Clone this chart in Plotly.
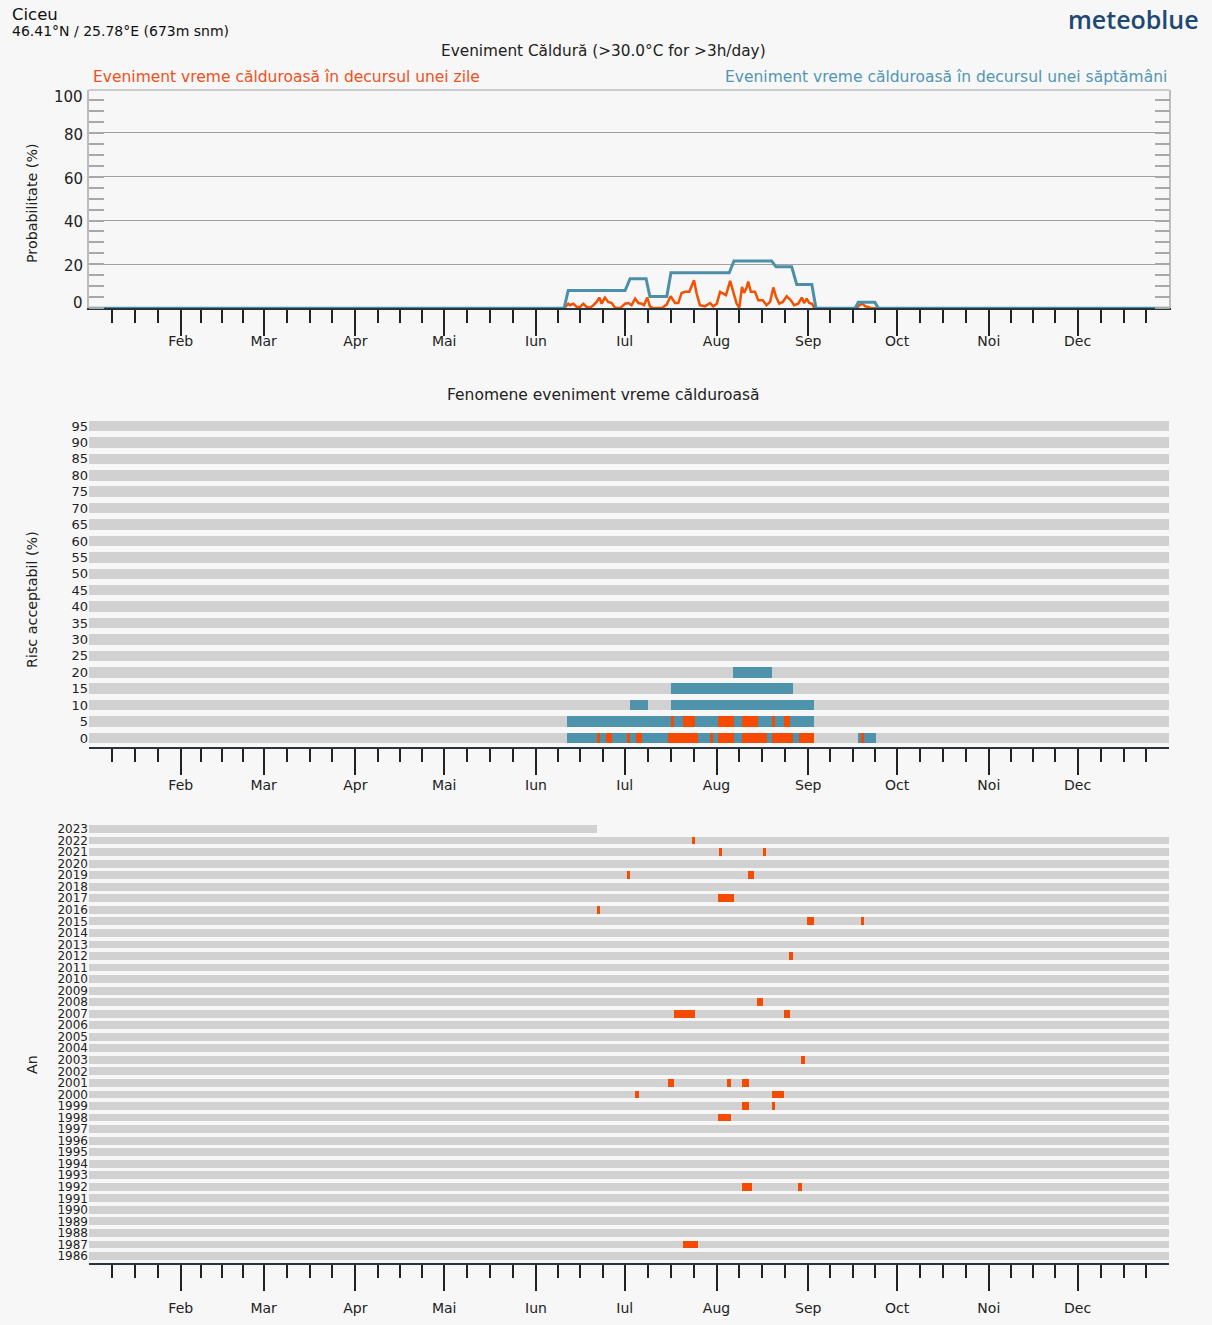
import plotly.graph_objects as go

W, H = 1212, 1325

# ---------------- data ----------------
month_labels = ["Feb", "Mar", "Apr", "Mai", "Iun", "Iul", "Aug", "Sep", "Oct", "Noi", "Dec"]
month_lengths = [31, 28, 31, 30, 31, 30, 31, 31, 30, 31, 30, 31]

# top panel: weekly event probability (%) vertices
weekly_days = [0, 160.5, 161.9, 181.1, 182.8, 188.2, 189.5, 195.2, 196.6, 216.3, 217.9,
               230.6, 232.1, 237.4, 239.1, 244.2, 245.6, 258.8, 259.9, 265.5, 266.7, 365]
weekly_prob = [0, 0, 8.1, 8.1, 13.5, 13.5, 5.4, 5.4, 16.2, 16.2, 21.6,
               21.6, 18.9, 18.9, 10.8, 10.8, 0, 0, 2.7, 2.7, 0, 0]

# top panel: daily event probability (%)
daily_days = [0, 160.5, 161.9, 162.5, 163.6, 164.8, 165.9, 167.0, 168.1, 169.3, 170.4,
              171.5, 172.4, 173.2, 174.3, 175.4, 176.6, 177.7, 179.4,
              181.1, 182.2, 183.3, 184.5, 185.6, 186.7, 187.5, 188.6, 189.5, 190.6,
              192.3, 193.8, 195.2, 196.5, 198.0, 199.1, 200.2, 201.4, 202.8, 204.4,
              205.3, 206.4, 208.1, 209.8, 210.9, 212.1, 213.2, 214.3, 215.2, 216.6,
              217.7, 218.8, 219.7, 220.6, 221.3, 222.2, 222.7, 223.6, 225.0, 226.1,
              227.6, 228.9, 230.1, 231.2, 232.1, 233.2, 234.4, 235.7, 237.1, 238.2,
              239.6, 240.8, 241.6, 242.5, 243.3, 244.2, 244.9, 245.6,
              259.4, 260.2, 261.4, 262.2, 263.3, 264.4, 365]
daily_prob = [0, 0, 2.1, 1.4, 2.1, 0.6, 0.6, 2.1, 0.6, 0.3, 1.4,
              2.9, 4.9, 2.1, 4.9, 2.9, 2.4, 0.3, 0,
              2.1, 2.4, 1.4, 4.4, 2.4, 2.1, 1.4, 4.9, 0.9, 0,
              0, 0.3, 1.8, 5.5, 2.4, 2.4, 7.0, 7.5, 7.5, 12.8,
              6.7, 1.4, 0.9, 2.4, 0.9, 2.1, 7.5, 6.7, 6.0, 12.5,
              6.7, 2.1, 0.3, 9.8, 7.0, 9.5, 12.2, 7.5, 7.5, 3.7,
              3.7, 1.4, 2.9, 9.5, 5.2, 2.1, 2.9, 5.5, 3.7, 1.4,
              2.1, 4.9, 2.4, 4.4, 2.4, 2.1, 0.6, 0,
              0, 1.4, 2.1, 0.9, 0.6, 0, 0]
prob_ticks = [0, 20, 40, 60, 80, 100]

# middle panel: acceptable risk levels
risk_levels = list(range(0, 100, 5))
week_risk = [0, 0, 5, 10, 10, 15, 20]
week_start = [161.6, 259.7, 161.6, 182.8, 196.6, 196.6, 217.7]
week_end = [244.8, 265.8, 244.8, 188.7, 244.8, 237.7, 230.8]
day_risk = [0, 0, 0, 0, 0, 0, 0, 0, 0, 0, 0, 5, 5, 5, 5, 5, 5]
day_start = [171.5, 174.6, 181.8, 184.7, 195.5, 209.7, 212.6, 220.7, 230.6, 239.9, 260.7,
             196.6, 200.6, 212.6, 220.7, 230.6, 234.7]
day_end = [172.7, 176.7, 182.8, 186.7, 205.7, 210.8, 217.8, 229.0, 237.8, 244.8, 261.9,
           197.7, 204.8, 217.8, 225.9, 231.7, 236.9]

# bottom panel: years and observed hot-day events
years = list(range(1986, 2024))
last_year_data_end = 171.5
event_year = [2022, 2021, 2021, 2019, 2019, 2017, 2016, 2015, 2015, 2012, 2008, 2007, 2007,
              2003, 2001, 2001, 2001, 2000, 2000, 1999, 1999, 1998, 1992, 1992, 1987]
event_start = [203.6, 212.7, 227.6, 181.7, 222.7, 212.6, 171.5, 242.7, 260.7, 236.6, 225.7,
               197.6, 234.7, 240.6, 195.6, 215.6, 220.7, 184.6, 230.7, 220.7, 230.7, 212.6,
               220.7, 239.6, 200.7]
event_end = [204.8, 213.9, 228.8, 182.9, 224.8, 217.8, 172.7, 244.8, 261.8, 237.7, 227.7,
             204.8, 236.8, 241.8, 197.7, 216.8, 222.9, 185.8, 234.8, 222.9, 231.8, 216.9,
             223.9, 240.8, 205.7]

# ---------------- styling ----------------
BG = "#f7f7f7"
BAND = "#d1d1d1"
BLUE = "#4f92ab"
ORANGE = "#f44b00"
TXT = "#222222"
FONT = "DejaVu Sans"

X0, X1 = 89, 1169.4


def fx(p):
    return p / W


def fy(p):
    return 1 - p / H


month_starts = []
s = 0
for L in month_lengths:
    month_starts.append(s)
    s += L
major_ticks = month_starts[1:]
minor_ticks = []
for st, L in zip(month_starts, month_lengths):
    for k in (1, 2, 3):
        minor_ticks.append(st + L * k / 4)

fig = go.Figure()

# ---- panel 1 ----
fig.add_trace(go.Scatter(x=daily_days, y=daily_prob, mode="lines",
                         line=dict(color="#f55000", width=2.5), xaxis="x", yaxis="y",
                         hoverinfo="skip", showlegend=False))
fig.add_trace(go.Scatter(x=weekly_days, y=weekly_prob, mode="lines",
                         line=dict(color="#4d8fa9", width=3), xaxis="x", yaxis="y",
                         hoverinfo="skip", showlegend=False))

# ---- panel 2 ----
band_h2 = 3.2
fig.add_trace(go.Bar(y=risk_levels, x=[365] * len(risk_levels), base=[0] * len(risk_levels),
                     orientation="h", width=band_h2, marker=dict(color=BAND, line=dict(width=0)),
                     xaxis="x2", yaxis="y2", hoverinfo="skip", showlegend=False))
fig.add_trace(go.Bar(y=week_risk, x=[e - b for b, e in zip(week_start, week_end)], base=week_start,
                     orientation="h", width=band_h2, marker=dict(color=BLUE, line=dict(width=0)),
                     xaxis="x2", yaxis="y2", hoverinfo="skip", showlegend=False))
fig.add_trace(go.Bar(y=day_risk, x=[e - b for b, e in zip(day_start, day_end)], base=day_start,
                     orientation="h", width=band_h2, marker=dict(color=ORANGE, line=dict(width=0)),
                     xaxis="x2", yaxis="y2", hoverinfo="skip", showlegend=False))

# ---- panel 3 ----
band_h3 = 0.68
year_len = [last_year_data_end if y == 2023 else 365 for y in years]
fig.add_trace(go.Bar(y=years, x=year_len, base=[0] * len(years), orientation="h", width=band_h3,
                     marker=dict(color=BAND, line=dict(width=0)),
                     xaxis="x3", yaxis="y3", hoverinfo="skip", showlegend=False))
fig.add_trace(go.Bar(y=event_year, x=[e - b for b, e in zip(event_start, event_end)], base=event_start,
                     orientation="h", width=band_h3, marker=dict(color=ORANGE, line=dict(width=0)),
                     xaxis="x3", yaxis="y3", hoverinfo="skip", showlegend=False))


def xaxis_cfg(anchor, standoff):
    return dict(
        domain=[fx(X0), fx(X1)], range=[0, 365], anchor=anchor,
        tickmode="array", tickvals=major_ticks, ticktext=month_labels,
        ticks="outside", ticklen=26, tickwidth=2, tickcolor=TXT,
        minor=dict(tickmode="array", tickvals=minor_ticks, ticks="outside", ticklen=13,
                   tickwidth=2, tickcolor=TXT, showgrid=False),
        showline=True, linecolor="#26343c", linewidth=2, showgrid=False, zeroline=False,
        tickfont=dict(family=FONT, size=14, color=TXT), ticklabelstandoff=standoff,
        layer="above traces", fixedrange=True,
    )


# panel pixel geometry
p1_top, p1_bot = 90, 308.3
p1_ppu = 2.195
p2_top, p2_bot = 419, 747
p2_zero, p2_ppu = 738, 16.42 / 5
p3_top, p3_bot = 823, 1263
p3_base, p3_ppu = 1256, 11.54

y2_range = [-(p2_bot - p2_zero) / p2_ppu, (p2_zero - p2_top) / p2_ppu]
y3_range = [1986 - (p3_bot - p3_base) / p3_ppu, 1986 + (p3_base - p3_top) / p3_ppu]

fig.update_layout(
    width=W, height=H, margin=dict(l=0, r=0, t=0, b=0),
    paper_bgcolor=BG, plot_bgcolor=BG, barmode="overlay", bargap=0,
    font=dict(family=FONT, color=TXT),
    xaxis=xaxis_cfg("y", -7),
    yaxis=dict(domain=[fy(p1_bot), fy(p1_top)], range=[0, (p1_bot - p1_top) / p1_ppu],
               tickmode="array", tickvals=[20, 40, 60, 80], showticklabels=False,
               ticks="", showgrid=True, gridcolor="#a0a0a0", gridwidth=1,
               showline=True, linecolor="#bdbdbd", linewidth=1.5, mirror="ticks",
               minor=dict(tick0=0, dtick=5, ticks="inside", ticklen=15, tickwidth=1.5,
                          tickcolor="#a8a8a8", showgrid=False),
               zeroline=False, fixedrange=True),
    xaxis2=xaxis_cfg("y2", -2),
    yaxis2=dict(domain=[fy(p2_bot), fy(p2_top)], range=y2_range,
                tickmode="array", tickvals=risk_levels, ticktext=[str(v) for v in risk_levels],
                ticks="", showgrid=False, showline=False, zeroline=False,
                tickfont=dict(family=FONT, size=13, color=TXT), ticklabelstandoff=0,
                fixedrange=True),
    xaxis3=xaxis_cfg("y3", 5),
    yaxis3=dict(domain=[fy(p3_bot), fy(p3_top)], range=y3_range,
                tickmode="array", tickvals=years, ticktext=[str(v) for v in years],
                ticks="", showgrid=False, showline=False, zeroline=False,
                tickfont=dict(family=FONT, size=12, color=TXT), ticklabelstandoff=0,
                fixedrange=True),
)

# top frame line of panel 1
fig.add_shape(type="line", xref="x domain", yref="y domain", x0=0, x1=1, y0=1, y1=1,
              line=dict(color="#bdbdbd", width=1.5))

ann = []
# panel 1 y tick labels (0 and 100 are nudged inward as in the reference)
for v, shift in zip(prob_ticks, [5, -2, -2, -2, -2, -8]):
    ypix = p1_bot - v * p1_ppu - shift
    ann.append(dict(x=fx(85), xref="paper", y=fy(ypix), yref="paper", text=str(v),
                    showarrow=False, xanchor="right", yanchor="middle",
                    font=dict(family=FONT, size=15, color=TXT)))
# header
ann.append(dict(x=fx(10), y=fy(14), xref="paper", yref="paper", text="Ciceu", showarrow=False,
                xanchor="left", yanchor="middle", font=dict(family=FONT, size=16.5, color="#111")))
ann.append(dict(x=fx(10), y=fy(31), xref="paper", yref="paper",
                text="46.41°N / 25.78°E (673m snm)", showarrow=False,
                xanchor="left", yanchor="middle", font=dict(family=FONT, size=14, color="#111")))
ann.append(dict(x=fx(1201), y=fy(19), xref="paper", yref="paper", text="meteoblue", showarrow=False,
                xanchor="right", yanchor="middle",
                font=dict(family="Open Sans", size=25, color="#1d4873", weight=600)))
# titles
ann.append(dict(x=fx(603), y=fy(51), xref="paper", yref="paper",
                text="Eveniment Căldură (>30.0°C for >3h/day)", showarrow=False,
                xanchor="center", yanchor="middle", font=dict(family=FONT, size=15.3, color=TXT)))
ann.append(dict(x=fx(91), y=fy(77), xref="paper", yref="paper",
                text="Eveniment vreme călduroasă în decursul unei zile", showarrow=False,
                xanchor="left", yanchor="middle", font=dict(family=FONT, size=15.5, color="#f0501a")))
ann.append(dict(x=fx(1169), y=fy(77), xref="paper", yref="paper",
                text="Eveniment vreme călduroasă în decursul unei săptămâni", showarrow=False,
                xanchor="right", yanchor="middle", font=dict(family=FONT, size=15.5, color="#5096b4")))
ann.append(dict(x=fx(603), y=fy(395), xref="paper", yref="paper",
                text="Fenomene eveniment vreme călduroasă", showarrow=False,
                xanchor="center", yanchor="middle", font=dict(family=FONT, size=15.5, color=TXT)))
# y-axis titles
for txt, yc in [("Probabilitate (%)", 203), ("Risc acceptabil (%)", 600), ("An", 1065)]:
    ann.append(dict(x=fx(32), y=fy(yc), xref="paper", yref="paper", text=txt, showarrow=False,
                    textangle=-90, xanchor="center", yanchor="middle",
                    font=dict(family=FONT, size=14.3, color=TXT)))

fig.update_layout(annotations=ann)

fig.write_html("out.html", config={"displayModeBar": False},
               post_script="document.body.style.margin='0';document.body.style.overflow='hidden';")
